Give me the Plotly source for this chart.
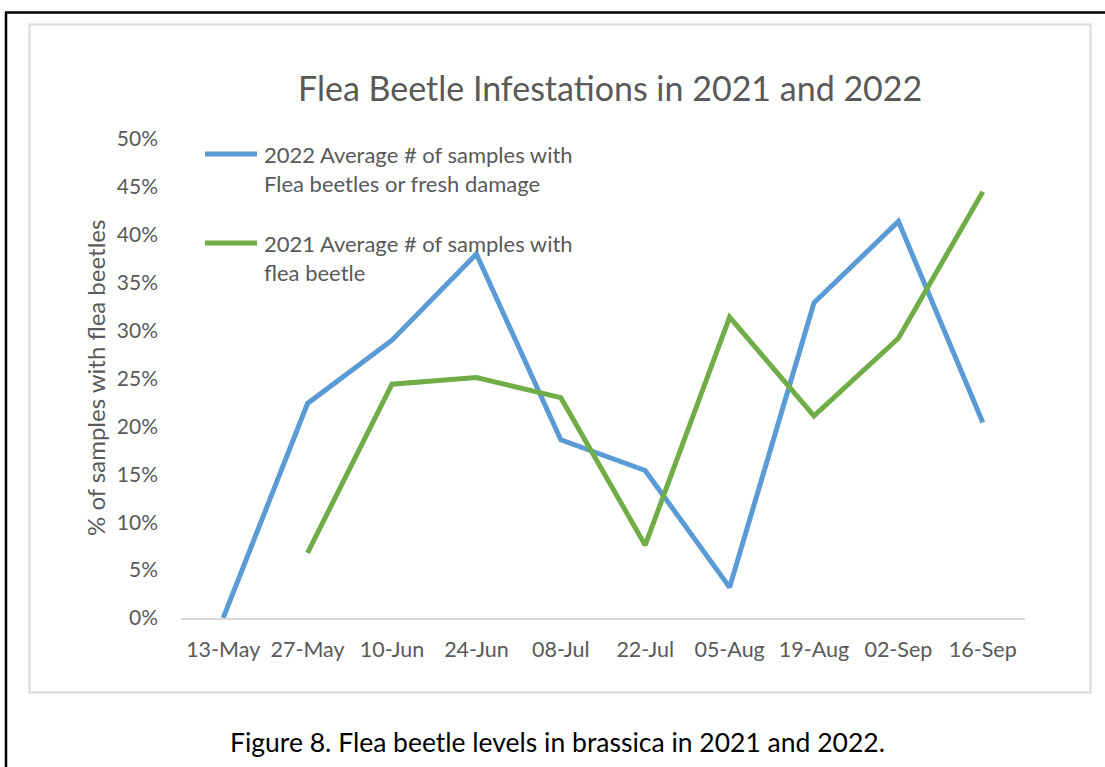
import plotly.graph_objects as go

# Sampling dates (category axis)
dates = ["13-May", "27-May", "10-Jun", "24-Jun", "08-Jul",
         "22-Jul", "05-Aug", "19-Aug", "02-Sep", "16-Sep"]

# Share of samples with flea beetles (fraction)
avg_2022 = [0.000, 0.224, 0.290, 0.380, 0.186, 0.154, 0.032, 0.329, 0.414, 0.204]
avg_2021 = [None, 0.068, 0.244, 0.251, 0.230, 0.076, 0.314, 0.211, 0.292, 0.445]

name_2022 = "2022 Average # of samples with<br>Flea beetles or fresh damage"
name_2021 = "2021 Average # of samples with<br>flea beetle"

y_ticks = [0, 0.05, 0.10, 0.15, 0.20, 0.25, 0.30, 0.35, 0.40, 0.45, 0.50]

BLUE = "#5B9BD5"
GREEN = "#70AD47"
TEXT = "#595959"
FONT = "Lato"

W, H = 1105, 767
L, R, T, B = 181, 1025, 139, 618   # plot area in pixels


def px(x):
    return (x - L) / (R - L)


def py(y):
    return (B - y) / (B - T)


fig = go.Figure()
fig.add_trace(go.Scatter(x=dates, y=avg_2022, mode="lines", name=name_2022,
                         line=dict(color=BLUE, width=5), showlegend=False))
fig.add_trace(go.Scatter(x=dates, y=avg_2021, mode="lines", name=name_2021,
                         line=dict(color=GREEN, width=5), showlegend=False,
                         connectgaps=False))

shapes = [
    # outer page frame (top and left edges)
    dict(type="line", xref="paper", yref="paper", x0=px(5), x1=px(1105), y0=py(12.5), y1=py(12.5),
         line=dict(color="black", width=2.5)),
    dict(type="line", xref="paper", yref="paper", x0=px(6), x1=px(6), y0=py(12), y1=py(767),
         line=dict(color="black", width=2.5)),
    # chart area border
    dict(type="rect", xref="paper", yref="paper", x0=px(29.5), x1=px(1090.5), y0=py(24.5), y1=py(692.5),
         line=dict(color="#D9D9D9", width=2)),
    # legend keys
    dict(type="line", xref="paper", yref="paper", x0=px(205), x1=px(257), y0=py(154), y1=py(154),
         line=dict(color=BLUE, width=5)),
    dict(type="line", xref="paper", yref="paper", x0=px(205), x1=px(257), y0=py(243), y1=py(243),
         line=dict(color=GREEN, width=5)),
]

annotations = [
    dict(text="Flea Beetle Infestations in 2021 and 2022", xref="paper", yref="paper",
         x=px(610), y=py(87), xanchor="center", yanchor="middle", showarrow=False,
         font=dict(family=FONT, size=34, color=TEXT)),
    dict(text=name_2022, xref="paper", yref="paper", x=px(262), y=py(139),
         xanchor="left", yanchor="top", align="left", showarrow=False,
         font=dict(family=FONT, size=22, color=TEXT)),
    dict(text=name_2021, xref="paper", yref="paper", x=px(262), y=py(228),
         xanchor="left", yanchor="top", align="left", showarrow=False,
         font=dict(family=FONT, size=22, color=TEXT)),
    dict(text="Figure 8. Flea beetle levels in brassica in 2021 and 2022.", xref="paper", yref="paper",
         x=px(557), y=py(742), xanchor="center", yanchor="middle", showarrow=False,
         font=dict(family=FONT, size=26.5, color="black")),
    dict(text="% of samples with flea beetles", xref="paper", yref="paper",
         x=px(95), y=py(378), xanchor="center", yanchor="middle", textangle=-90, showarrow=False,
         font=dict(family=FONT, size=24, color=TEXT)),
]

fig.update_layout(
    width=W, height=H,
    margin=dict(l=L, r=W - R, t=T, b=H - B, pad=0),
    paper_bgcolor="white", plot_bgcolor="white",
    font=dict(family=FONT, color=TEXT, size=21),
    shapes=shapes, annotations=annotations,
    xaxis=dict(type="category", range=[-0.5, len(dates) - 0.5],
               showgrid=False, zeroline=False,
               showline=True, linecolor="#D9D9D9", linewidth=2,
               ticks="", ticklabelstandoff=11,
               tickfont=dict(family=FONT, size=21.5, color=TEXT)),
    yaxis=dict(range=[0, 0.5], tickvals=y_ticks, tickformat=".0%",
               showgrid=False, zeroline=False, showline=False, ticks="",
               ticklabelstandoff=22,
               tickfont=dict(family=FONT, size=21, color=TEXT)),
)

fig.write_html("out.html")
